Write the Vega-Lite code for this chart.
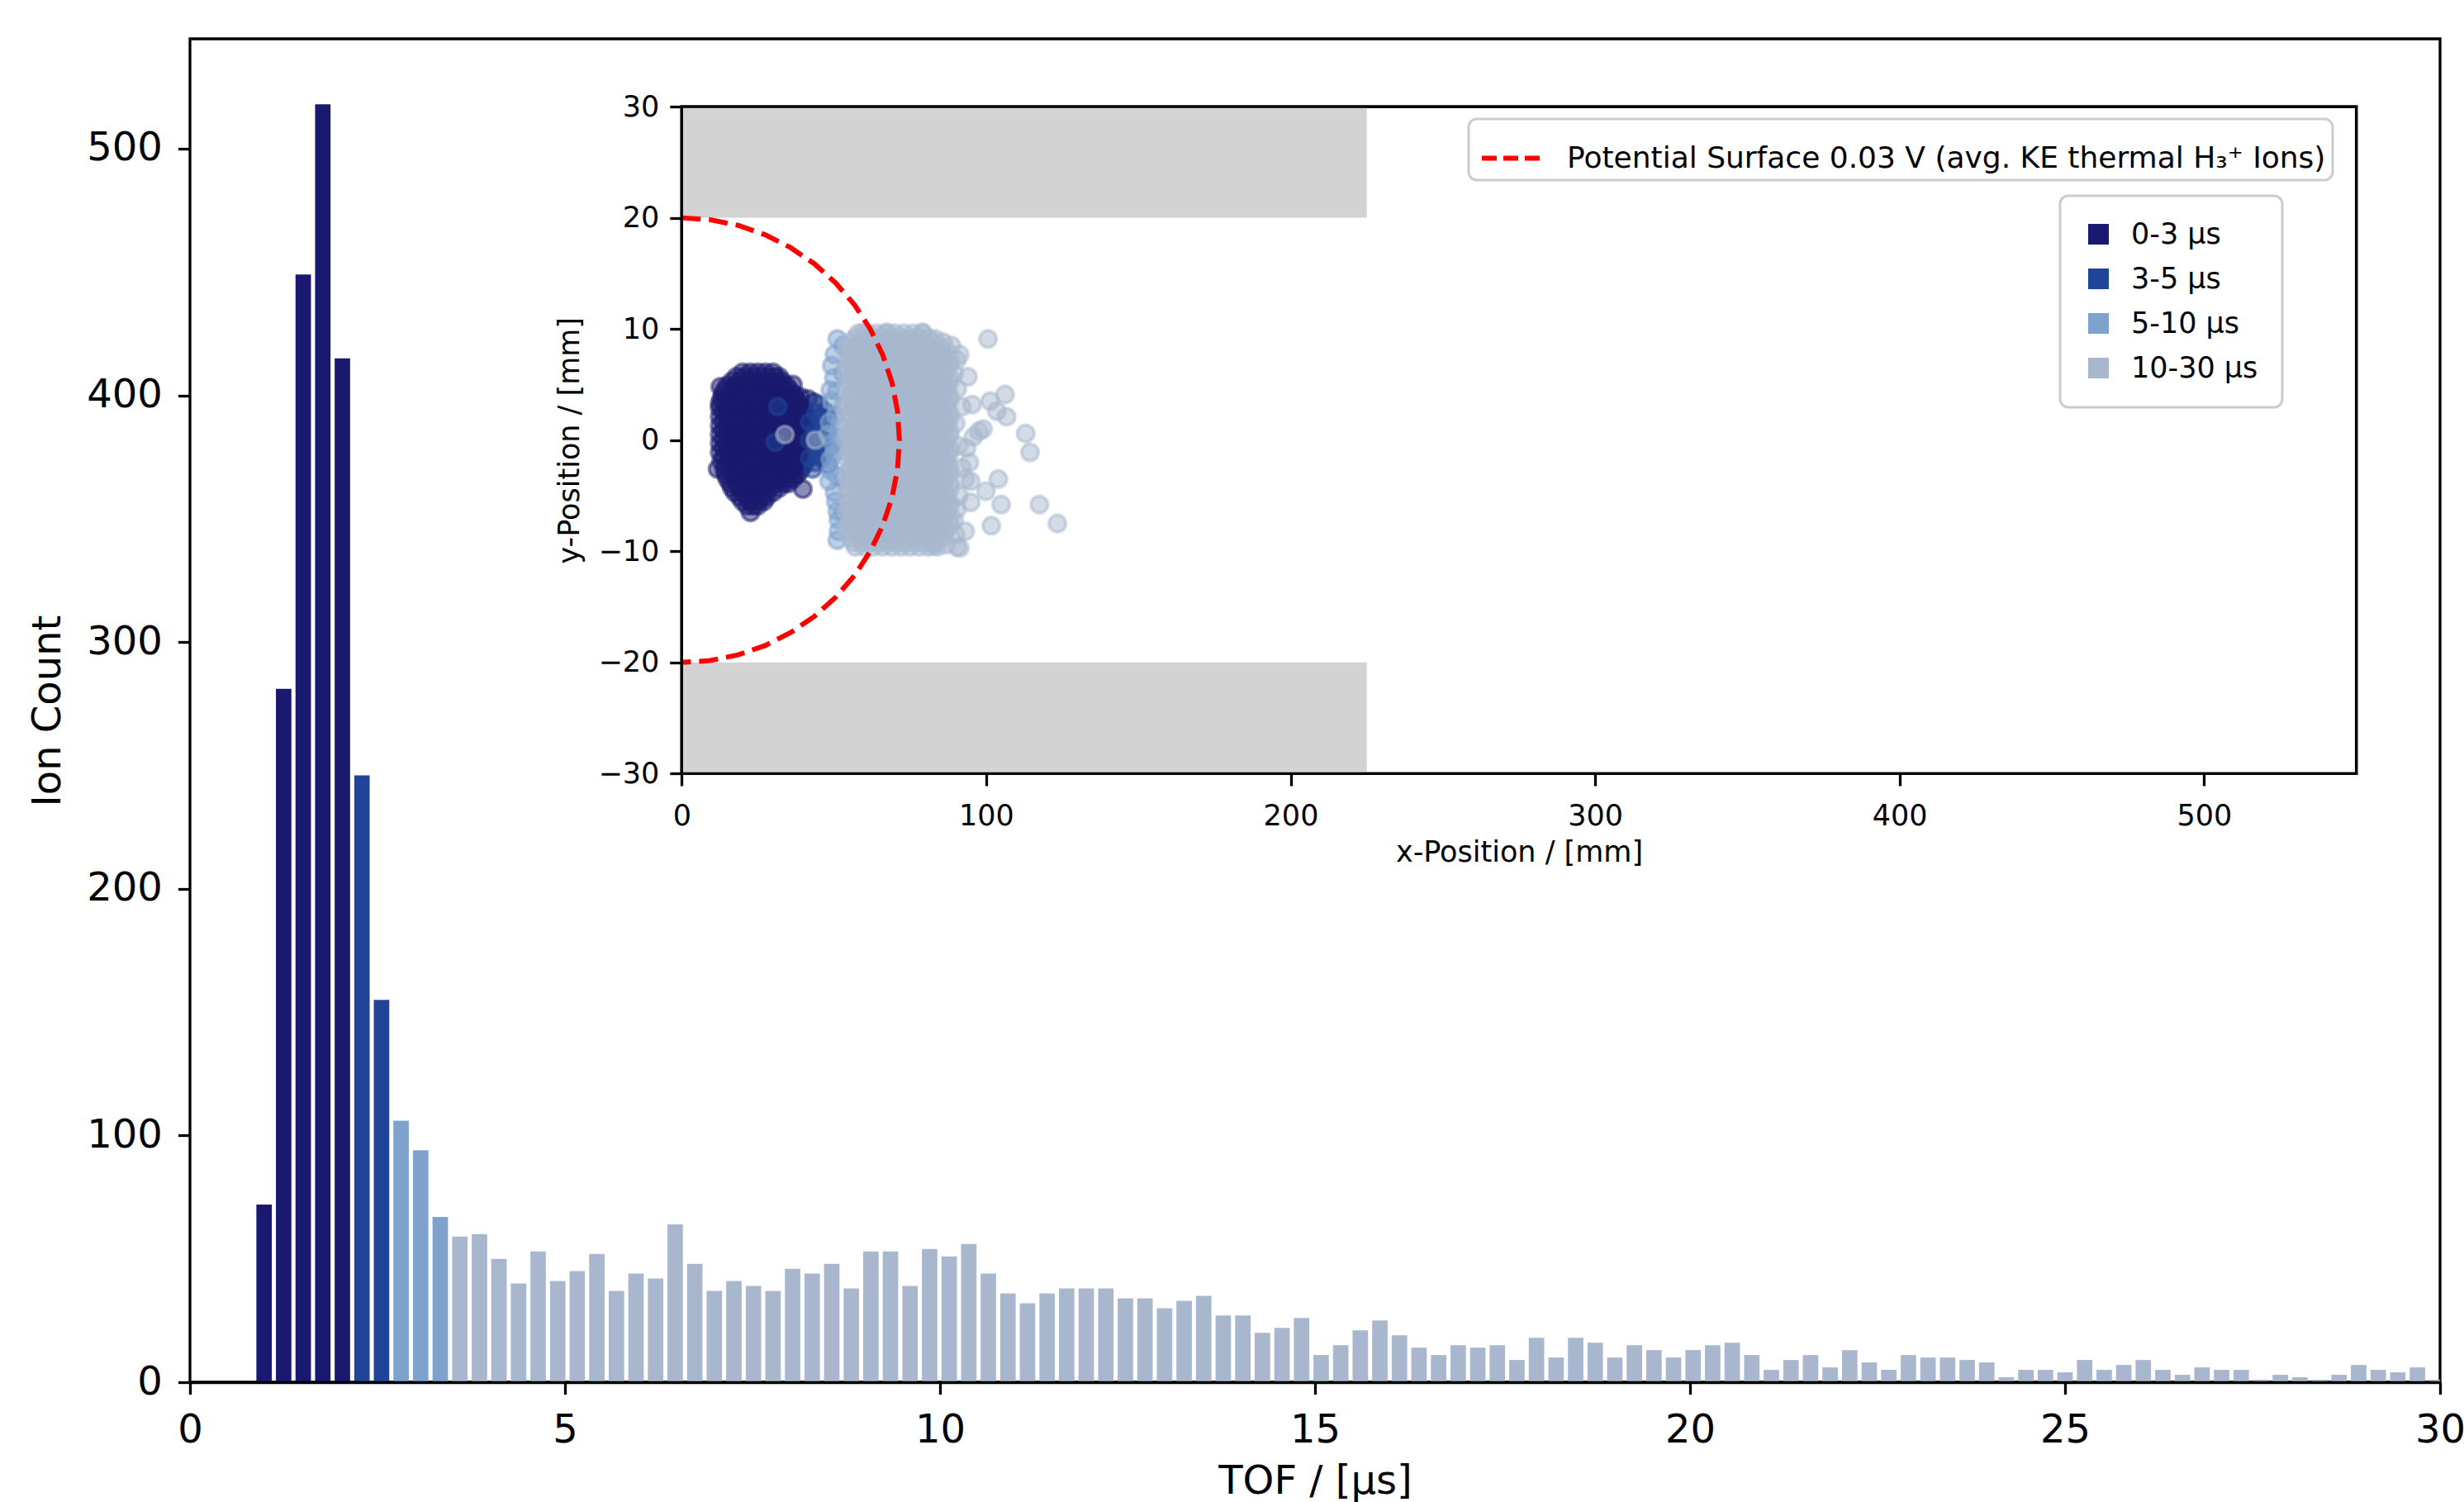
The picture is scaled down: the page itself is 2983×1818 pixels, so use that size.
{
  "$schema": "https://vega.github.io/schema/vega-lite/v6.json",
  "width": 2724,
  "height": 1626,
  "autosize": {"type": "none"},
  "padding": {"left": 230, "top": 47, "right": 29, "bottom": 145},
  "background": "white",
  "config": {
    "font": "DejaVu Sans",
    "view": {"stroke": "black", "strokeWidth": 3.3},
    "axis": {"grid": false, "labelFont": "DejaVu Sans", "titleFont": "DejaVu Sans", "labelColor": "black", "titleColor": "black", "tickColor": "black", "domainColor": "black", "titleFontWeight": "normal", "labelFlush": false, "labelOverlap": false, "tickWidth": 3.3, "tickSize": 14.6},
    "legend": {"labelFont": "DejaVu Sans", "labelColor": "black", "labelFontSize": 35, "strokeWidth": 3}
  },
  "datasets": {
    "hist": [
      {"t0":0.852,"t1":1.113,"n":72,"g":"0-3 μs"},
      {"t0":1.113,"t1":1.374,"n":281,"g":"0-3 μs"},
      {"t0":1.374,"t1":1.635,"n":449,"g":"0-3 μs"},
      {"t0":1.635,"t1":1.896,"n":518,"g":"0-3 μs"},
      {"t0":1.896,"t1":2.157,"n":415,"g":"0-3 μs"},
      {"t0":2.157,"t1":2.418,"n":246,"g":"3-5 μs"},
      {"t0":2.418,"t1":2.679,"n":155,"g":"3-5 μs"},
      {"t0":2.679,"t1":2.940,"n":106,"g":"5-10 μs"},
      {"t0":2.940,"t1":3.201,"n":94,"g":"5-10 μs"},
      {"t0":3.201,"t1":3.462,"n":67,"g":"5-10 μs"},
      {"t0":3.462,"t1":3.723,"n":59,"g":"10-30 μs"},
      {"t0":3.723,"t1":3.984,"n":60,"g":"10-30 μs"},
      {"t0":3.984,"t1":4.245,"n":50,"g":"10-30 μs"},
      {"t0":4.245,"t1":4.506,"n":40,"g":"10-30 μs"},
      {"t0":4.506,"t1":4.767,"n":53,"g":"10-30 μs"},
      {"t0":4.767,"t1":5.028,"n":41,"g":"10-30 μs"},
      {"t0":5.028,"t1":5.289,"n":45,"g":"10-30 μs"},
      {"t0":5.289,"t1":5.550,"n":52,"g":"10-30 μs"},
      {"t0":5.550,"t1":5.811,"n":37,"g":"10-30 μs"},
      {"t0":5.811,"t1":6.072,"n":44,"g":"10-30 μs"},
      {"t0":6.072,"t1":6.333,"n":42,"g":"10-30 μs"},
      {"t0":6.333,"t1":6.594,"n":64,"g":"10-30 μs"},
      {"t0":6.594,"t1":6.855,"n":48,"g":"10-30 μs"},
      {"t0":6.855,"t1":7.116,"n":37,"g":"10-30 μs"},
      {"t0":7.116,"t1":7.377,"n":41,"g":"10-30 μs"},
      {"t0":7.377,"t1":7.638,"n":39,"g":"10-30 μs"},
      {"t0":7.638,"t1":7.899,"n":37,"g":"10-30 μs"},
      {"t0":7.899,"t1":8.160,"n":46,"g":"10-30 μs"},
      {"t0":8.160,"t1":8.421,"n":44,"g":"10-30 μs"},
      {"t0":8.421,"t1":8.682,"n":48,"g":"10-30 μs"},
      {"t0":8.682,"t1":8.943,"n":38,"g":"10-30 μs"},
      {"t0":8.943,"t1":9.204,"n":53,"g":"10-30 μs"},
      {"t0":9.204,"t1":9.465,"n":53,"g":"10-30 μs"},
      {"t0":9.465,"t1":9.726,"n":39,"g":"10-30 μs"},
      {"t0":9.726,"t1":9.987,"n":54,"g":"10-30 μs"},
      {"t0":9.987,"t1":10.248,"n":51,"g":"10-30 μs"},
      {"t0":10.248,"t1":10.509,"n":56,"g":"10-30 μs"},
      {"t0":10.509,"t1":10.770,"n":44,"g":"10-30 μs"},
      {"t0":10.770,"t1":11.031,"n":36,"g":"10-30 μs"},
      {"t0":11.031,"t1":11.292,"n":32,"g":"10-30 μs"},
      {"t0":11.292,"t1":11.553,"n":36,"g":"10-30 μs"},
      {"t0":11.553,"t1":11.814,"n":38,"g":"10-30 μs"},
      {"t0":11.814,"t1":12.075,"n":38,"g":"10-30 μs"},
      {"t0":12.075,"t1":12.336,"n":38,"g":"10-30 μs"},
      {"t0":12.336,"t1":12.597,"n":34,"g":"10-30 μs"},
      {"t0":12.597,"t1":12.858,"n":34,"g":"10-30 μs"},
      {"t0":12.858,"t1":13.119,"n":30,"g":"10-30 μs"},
      {"t0":13.119,"t1":13.380,"n":33,"g":"10-30 μs"},
      {"t0":13.380,"t1":13.641,"n":35,"g":"10-30 μs"},
      {"t0":13.641,"t1":13.902,"n":27,"g":"10-30 μs"},
      {"t0":13.902,"t1":14.163,"n":27,"g":"10-30 μs"},
      {"t0":14.163,"t1":14.424,"n":20,"g":"10-30 μs"},
      {"t0":14.424,"t1":14.685,"n":22,"g":"10-30 μs"},
      {"t0":14.685,"t1":14.946,"n":26,"g":"10-30 μs"},
      {"t0":14.946,"t1":15.207,"n":11,"g":"10-30 μs"},
      {"t0":15.207,"t1":15.468,"n":15,"g":"10-30 μs"},
      {"t0":15.468,"t1":15.729,"n":21,"g":"10-30 μs"},
      {"t0":15.729,"t1":15.990,"n":25,"g":"10-30 μs"},
      {"t0":15.990,"t1":16.251,"n":19,"g":"10-30 μs"},
      {"t0":16.251,"t1":16.512,"n":14,"g":"10-30 μs"},
      {"t0":16.512,"t1":16.773,"n":11,"g":"10-30 μs"},
      {"t0":16.773,"t1":17.034,"n":15,"g":"10-30 μs"},
      {"t0":17.034,"t1":17.295,"n":14,"g":"10-30 μs"},
      {"t0":17.295,"t1":17.556,"n":15,"g":"10-30 μs"},
      {"t0":17.556,"t1":17.817,"n":9,"g":"10-30 μs"},
      {"t0":17.817,"t1":18.078,"n":18,"g":"10-30 μs"},
      {"t0":18.078,"t1":18.339,"n":10,"g":"10-30 μs"},
      {"t0":18.339,"t1":18.600,"n":18,"g":"10-30 μs"},
      {"t0":18.600,"t1":18.861,"n":16,"g":"10-30 μs"},
      {"t0":18.861,"t1":19.122,"n":10,"g":"10-30 μs"},
      {"t0":19.122,"t1":19.383,"n":15,"g":"10-30 μs"},
      {"t0":19.383,"t1":19.644,"n":13,"g":"10-30 μs"},
      {"t0":19.644,"t1":19.905,"n":10,"g":"10-30 μs"},
      {"t0":19.905,"t1":20.166,"n":13,"g":"10-30 μs"},
      {"t0":20.166,"t1":20.427,"n":15,"g":"10-30 μs"},
      {"t0":20.427,"t1":20.688,"n":16,"g":"10-30 μs"},
      {"t0":20.688,"t1":20.949,"n":11,"g":"10-30 μs"},
      {"t0":20.949,"t1":21.210,"n":5,"g":"10-30 μs"},
      {"t0":21.210,"t1":21.471,"n":9,"g":"10-30 μs"},
      {"t0":21.471,"t1":21.732,"n":11,"g":"10-30 μs"},
      {"t0":21.732,"t1":21.993,"n":6,"g":"10-30 μs"},
      {"t0":21.993,"t1":22.254,"n":13,"g":"10-30 μs"},
      {"t0":22.254,"t1":22.515,"n":8,"g":"10-30 μs"},
      {"t0":22.515,"t1":22.776,"n":5,"g":"10-30 μs"},
      {"t0":22.776,"t1":23.037,"n":11,"g":"10-30 μs"},
      {"t0":23.037,"t1":23.298,"n":10,"g":"10-30 μs"},
      {"t0":23.298,"t1":23.559,"n":10,"g":"10-30 μs"},
      {"t0":23.559,"t1":23.820,"n":9,"g":"10-30 μs"},
      {"t0":23.820,"t1":24.081,"n":8,"g":"10-30 μs"},
      {"t0":24.081,"t1":24.342,"n":2,"g":"10-30 μs"},
      {"t0":24.342,"t1":24.603,"n":5,"g":"10-30 μs"},
      {"t0":24.603,"t1":24.864,"n":5,"g":"10-30 μs"},
      {"t0":24.864,"t1":25.125,"n":4,"g":"10-30 μs"},
      {"t0":25.125,"t1":25.386,"n":9,"g":"10-30 μs"},
      {"t0":25.386,"t1":25.647,"n":5,"g":"10-30 μs"},
      {"t0":25.647,"t1":25.908,"n":7,"g":"10-30 μs"},
      {"t0":25.908,"t1":26.169,"n":9,"g":"10-30 μs"},
      {"t0":26.169,"t1":26.430,"n":5,"g":"10-30 μs"},
      {"t0":26.430,"t1":26.691,"n":3,"g":"10-30 μs"},
      {"t0":26.691,"t1":26.952,"n":6,"g":"10-30 μs"},
      {"t0":26.952,"t1":27.213,"n":5,"g":"10-30 μs"},
      {"t0":27.213,"t1":27.474,"n":5,"g":"10-30 μs"},
      {"t0":27.474,"t1":27.735,"n":1,"g":"10-30 μs"},
      {"t0":27.735,"t1":27.996,"n":3,"g":"10-30 μs"},
      {"t0":27.996,"t1":28.257,"n":2,"g":"10-30 μs"},
      {"t0":28.257,"t1":28.518,"n":1,"g":"10-30 μs"},
      {"t0":28.518,"t1":28.779,"n":3,"g":"10-30 μs"},
      {"t0":28.779,"t1":29.040,"n":7,"g":"10-30 μs"},
      {"t0":29.040,"t1":29.301,"n":5,"g":"10-30 μs"},
      {"t0":29.301,"t1":29.562,"n":4,"g":"10-30 μs"},
      {"t0":29.562,"t1":29.823,"n":6,"g":"10-30 μs"},
      {"t0":29.823,"t1":30.084,"n":1,"g":"10-30 μs"}
    ],
    "frame": [{"x":0,"x2":550,"y":-30,"y2":30}],
    "walls": [{"x":0,"x2":225,"y":20,"y2":30},{"x":0,"x2":225,"y":-30,"y2":-20}],
    "surf": [
      {"i":0,"x":0,"y":20},{"i":1,"x":9.33,"y":19.83},{"i":2,"x":18.5,"y":19.32},{"i":3,"x":27.36,"y":18.48},
      {"i":4,"x":35.75,"y":17.32},{"i":5,"x":43.53,"y":15.87},{"i":6,"x":50.56,"y":14.14},{"i":7,"x":56.73,"y":12.18},
      {"i":8,"x":61.92,"y":10},{"i":9,"x":66.06,"y":7.65},{"i":10,"x":69.06,"y":5.18},{"i":11,"x":70.89,"y":2.61},
      {"i":12,"x":71.5,"y":0},{"i":13,"x":70.89,"y":-2.61},{"i":14,"x":69.06,"y":-5.18},{"i":15,"x":66.06,"y":-7.65},
      {"i":16,"x":61.92,"y":-10},{"i":17,"x":56.73,"y":-12.18},{"i":18,"x":50.56,"y":-14.14},{"i":19,"x":43.53,"y":-15.87},
      {"i":20,"x":35.75,"y":-17.32},{"i":21,"x":27.36,"y":-18.48},{"i":22,"x":18.5,"y":-19.32},{"i":23,"x":9.33,"y":-19.83},
      {"i":24,"x":0,"y":-20}
    ],
    "p0": [
      {"x":20,"y":6.1},{"x":22.5,"y":6.1},{"x":25,"y":6.1},{"x":27.5,"y":6.1},{"x":30,"y":6.1},
      {"x":18,"y":5.7},{"x":20.5,"y":5.7},{"x":23,"y":5.7},{"x":25.5,"y":5.7},{"x":28,"y":5.7},{"x":30.5,"y":5.7},{"x":32,"y":5.7},
      {"x":16.5,"y":5.3},{"x":19,"y":5.3},{"x":21.5,"y":5.3},{"x":24,"y":5.3},{"x":26.5,"y":5.3},{"x":29,"y":5.3},{"x":31.5,"y":5.3},{"x":33,"y":5.3},
      {"x":15,"y":4.9},{"x":17.5,"y":4.9},{"x":20,"y":4.9},{"x":22.5,"y":4.9},{"x":25,"y":4.9},{"x":27.5,"y":4.9},{"x":30,"y":4.9},{"x":32.5,"y":4.9},{"x":34.5,"y":4.9},
      {"x":14,"y":4.5},{"x":16.5,"y":4.5},{"x":19,"y":4.5},{"x":21.5,"y":4.5},{"x":24,"y":4.5},{"x":26.5,"y":4.5},{"x":29,"y":4.5},{"x":31.5,"y":4.5},{"x":34,"y":4.5},{"x":35.5,"y":4.5},
      {"x":13.5,"y":4.1},{"x":16,"y":4.1},{"x":18.5,"y":4.1},{"x":21,"y":4.1},{"x":23.5,"y":4.1},{"x":26,"y":4.1},{"x":28.5,"y":4.1},{"x":31,"y":4.1},{"x":33.5,"y":4.1},{"x":36,"y":4.1},{"x":37,"y":4.1},
      {"x":13,"y":3.7},{"x":15.5,"y":3.7},{"x":18,"y":3.7},{"x":20.5,"y":3.7},{"x":23,"y":3.7},{"x":25.5,"y":3.7},{"x":28,"y":3.7},{"x":30.5,"y":3.7},{"x":33,"y":3.7},{"x":35.5,"y":3.7},{"x":37.5,"y":3.7},
      {"x":12.5,"y":3.3},{"x":14,"y":3.3},{"x":16.5,"y":3.3},{"x":19,"y":3.3},{"x":21.5,"y":3.3},{"x":24,"y":3.3},{"x":26.5,"y":3.3},{"x":29,"y":3.3},{"x":31.5,"y":3.3},{"x":34,"y":3.3},{"x":36.5,"y":3.3},{"x":38.5,"y":3.3},
      {"x":12.5,"y":2.9},{"x":15,"y":2.9},{"x":17.5,"y":2.9},{"x":20,"y":2.9},{"x":22.5,"y":2.9},{"x":25,"y":2.9},{"x":27.5,"y":2.9},{"x":30,"y":2.9},{"x":32.5,"y":2.9},{"x":35,"y":2.9},{"x":37.5,"y":2.9},{"x":39.5,"y":2.9},
      {"x":13.75,"y":2.5},{"x":16.25,"y":2.5},{"x":18.75,"y":2.5},{"x":21.25,"y":2.5},{"x":23.75,"y":2.5},{"x":26.25,"y":2.5},{"x":28.75,"y":2.5},{"x":31.25,"y":2.5},{"x":33.75,"y":2.5},{"x":36.25,"y":2.5},{"x":38.75,"y":2.5},{"x":40.5,"y":2.5},
      {"x":12.5,"y":2.1},{"x":15,"y":2.1},{"x":17.5,"y":2.1},{"x":20,"y":2.1},{"x":22.5,"y":2.1},{"x":25,"y":2.1},{"x":27.5,"y":2.1},{"x":30,"y":2.1},{"x":32.5,"y":2.1},{"x":35,"y":2.1},{"x":37.5,"y":2.1},{"x":40,"y":2.1},{"x":41.5,"y":2.1},
      {"x":13.75,"y":1.7},{"x":16.25,"y":1.7},{"x":18.75,"y":1.7},{"x":21.25,"y":1.7},{"x":23.75,"y":1.7},{"x":26.25,"y":1.7},{"x":28.75,"y":1.7},{"x":31.25,"y":1.7},{"x":33.75,"y":1.7},{"x":36.25,"y":1.7},{"x":38.75,"y":1.7},{"x":41.25,"y":1.7},{"x":42,"y":1.7},
      {"x":12.5,"y":1.3},{"x":15,"y":1.3},{"x":17.5,"y":1.3},{"x":20,"y":1.3},{"x":22.5,"y":1.3},{"x":25,"y":1.3},{"x":27.5,"y":1.3},{"x":30,"y":1.3},{"x":32.5,"y":1.3},{"x":35,"y":1.3},{"x":37.5,"y":1.3},{"x":40,"y":1.3},{"x":42,"y":1.3},
      {"x":13.75,"y":0.9},{"x":16.25,"y":0.9},{"x":18.75,"y":0.9},{"x":21.25,"y":0.9},{"x":23.75,"y":0.9},{"x":26.25,"y":0.9},{"x":28.75,"y":0.9},{"x":31.25,"y":0.9},{"x":33.75,"y":0.9},{"x":36.25,"y":0.9},{"x":38.75,"y":0.9},{"x":41.25,"y":0.9},{"x":42.5,"y":0.9},
      {"x":12.5,"y":0.5},{"x":15,"y":0.5},{"x":17.5,"y":0.5},{"x":20,"y":0.5},{"x":22.5,"y":0.5},{"x":25,"y":0.5},{"x":27.5,"y":0.5},{"x":30,"y":0.5},{"x":32.5,"y":0.5},{"x":35,"y":0.5},{"x":37.5,"y":0.5},{"x":40,"y":0.5},{"x":42.5,"y":0.5},
      {"x":13.75,"y":0.1},{"x":16.25,"y":0.1},{"x":18.75,"y":0.1},{"x":21.25,"y":0.1},{"x":23.75,"y":0.1},{"x":26.25,"y":0.1},{"x":28.75,"y":0.1},{"x":31.25,"y":0.1},{"x":33.75,"y":0.1},{"x":36.25,"y":0.1},{"x":38.75,"y":0.1},{"x":41.25,"y":0.1},{"x":42.5,"y":0.1},
      {"x":12.5,"y":-0.3},{"x":15,"y":-0.3},{"x":17.5,"y":-0.3},{"x":20,"y":-0.3},{"x":22.5,"y":-0.3},{"x":25,"y":-0.3},{"x":27.5,"y":-0.3},{"x":30,"y":-0.3},{"x":32.5,"y":-0.3},{"x":35,"y":-0.3},{"x":37.5,"y":-0.3},{"x":40,"y":-0.3},{"x":42.5,"y":-0.3},
      {"x":13.75,"y":-0.7},{"x":16.25,"y":-0.7},{"x":18.75,"y":-0.7},{"x":21.25,"y":-0.7},{"x":23.75,"y":-0.7},{"x":26.25,"y":-0.7},{"x":28.75,"y":-0.7},{"x":31.25,"y":-0.7},{"x":33.75,"y":-0.7},{"x":36.25,"y":-0.7},{"x":38.75,"y":-0.7},{"x":41.25,"y":-0.7},{"x":42.5,"y":-0.7},
      {"x":12.5,"y":-1.1},{"x":15,"y":-1.1},{"x":17.5,"y":-1.1},{"x":20,"y":-1.1},{"x":22.5,"y":-1.1},{"x":25,"y":-1.1},{"x":27.5,"y":-1.1},{"x":30,"y":-1.1},{"x":32.5,"y":-1.1},{"x":35,"y":-1.1},{"x":37.5,"y":-1.1},{"x":40,"y":-1.1},{"x":41.5,"y":-1.1},
      {"x":13.75,"y":-1.5},{"x":16.25,"y":-1.5},{"x":18.75,"y":-1.5},{"x":21.25,"y":-1.5},{"x":23.75,"y":-1.5},{"x":26.25,"y":-1.5},{"x":28.75,"y":-1.5},{"x":31.25,"y":-1.5},{"x":33.75,"y":-1.5},{"x":36.25,"y":-1.5},{"x":38.75,"y":-1.5},{"x":41,"y":-1.5},
      {"x":13,"y":-1.9},{"x":15.5,"y":-1.9},{"x":18,"y":-1.9},{"x":20.5,"y":-1.9},{"x":23,"y":-1.9},{"x":25.5,"y":-1.9},{"x":28,"y":-1.9},{"x":30.5,"y":-1.9},{"x":33,"y":-1.9},{"x":35.5,"y":-1.9},{"x":38,"y":-1.9},{"x":40.5,"y":-1.9},
      {"x":14.25,"y":-2.3},{"x":16.75,"y":-2.3},{"x":19.25,"y":-2.3},{"x":21.75,"y":-2.3},{"x":24.25,"y":-2.3},{"x":26.75,"y":-2.3},{"x":29.25,"y":-2.3},{"x":31.75,"y":-2.3},{"x":34.25,"y":-2.3},{"x":36.75,"y":-2.3},{"x":39.25,"y":-2.3},{"x":40,"y":-2.3},
      {"x":14,"y":-2.7},{"x":16.5,"y":-2.7},{"x":19,"y":-2.7},{"x":21.5,"y":-2.7},{"x":24,"y":-2.7},{"x":26.5,"y":-2.7},{"x":29,"y":-2.7},{"x":31.5,"y":-2.7},{"x":34,"y":-2.7},{"x":36.5,"y":-2.7},{"x":39,"y":-2.7},
      {"x":14.5,"y":-3.1},{"x":17,"y":-3.1},{"x":19.5,"y":-3.1},{"x":22,"y":-3.1},{"x":24.5,"y":-3.1},{"x":27,"y":-3.1},{"x":29.5,"y":-3.1},{"x":32,"y":-3.1},{"x":34.5,"y":-3.1},{"x":37,"y":-3.1},{"x":38,"y":-3.1},
      {"x":15,"y":-3.5},{"x":17.5,"y":-3.5},{"x":20,"y":-3.5},{"x":22.5,"y":-3.5},{"x":25,"y":-3.5},{"x":27.5,"y":-3.5},{"x":30,"y":-3.5},{"x":32.5,"y":-3.5},{"x":35,"y":-3.5},{"x":36.5,"y":-3.5},
      {"x":16,"y":-3.9},{"x":18.5,"y":-3.9},{"x":21,"y":-3.9},{"x":23.5,"y":-3.9},{"x":26,"y":-3.9},{"x":28.5,"y":-3.9},{"x":31,"y":-3.9},{"x":33.5,"y":-3.9},{"x":35,"y":-3.9},
      {"x":16.5,"y":-4.3},{"x":19,"y":-4.3},{"x":21.5,"y":-4.3},{"x":24,"y":-4.3},{"x":26.5,"y":-4.3},{"x":29,"y":-4.3},{"x":32,"y":-4.3},
      {"x":17.5,"y":-4.7},{"x":20,"y":-4.7},{"x":22.5,"y":-4.7},{"x":25,"y":-4.7},{"x":27.5,"y":-4.7},{"x":30,"y":-4.7},
      {"x":19,"y":-5.1},{"x":21.5,"y":-5.1},{"x":24,"y":-5.1},{"x":26.5,"y":-5.1},{"x":28,"y":-5.1},
      {"x":20,"y":-5.5},{"x":22.5,"y":-5.5},{"x":25,"y":-5.5},{"x":27,"y":-5.5},
      {"x":21.5,"y":-5.9},{"x":23.5,"y":-5.9},{"x":25,"y":-5.9},
      {"x":38.9,"y":3.9},{"x":41.5,"y":3.7},{"x":43.5,"y":3.4},{"x":39.8,"y":-4.4},{"x":22.6,"y":-6.5},{"x":12.7,"y":4.8},{"x":36.5,"y":5.0},{"x":11.8,"y":-2.6}
    ],
    "p1": [
      {"x":44,"y":2.4},{"x":46,"y":1.6},{"x":44,"y":0.8},{"x":46.5,"y":0},{"x":44,"y":-0.8},{"x":46,"y":-1.6},{"x":44,"y":-2.0},
      {"x":47,"y":2.6},{"x":47.5,"y":0.8},{"x":47.5,"y":-0.8},{"x":45,"y":3.2},{"x":43,"y":-2.6},{"x":31.6,"y":3.0},{"x":30.7,"y":-0.2},
      {"x":42,"y":0},{"x":42,"y":1.6},{"x":42,"y":-1.6},{"x":48,"y":-2.2},{"x":48,"y":2},{"x":45,"y":0.4},{"x":45,"y":-1.2},{"x":45.5,"y":2}
    ],
    "p2": [
      {"x":51.1,"y":9.1},{"x":50.2,"y":7.7},{"x":49.3,"y":6.7},{"x":50,"y":5.6},{"x":48.8,"y":4.5},{"x":49.3,"y":3.5},
      {"x":50.6,"y":2.2},{"x":52,"y":1.2},{"x":51.5,"y":0.3},{"x":50.6,"y":-1},{"x":48.8,"y":-1.7},{"x":48.8,"y":-2.7},
      {"x":48.4,"y":-3.7},{"x":50.2,"y":-4.7},{"x":50.6,"y":-5.5},{"x":51.1,"y":-6.4},{"x":51.5,"y":-7.2},{"x":51.5,"y":-8.2},
      {"x":51.1,"y":-9.0},{"x":53,"y":8.5},{"x":53,"y":6},{"x":53,"y":3},{"x":53,"y":-0.5},{"x":53,"y":-3.5},{"x":53,"y":-6.5},
      {"x":56,"y":7},{"x":56,"y":0},{"x":56,"y":-7},{"x":48,"y":0.5},{"x":49.5,"y":-0.3},{"x":48.5,"y":1.6},{"x":50,"y":-1.3},{"x":51,"y":4.4},{"x":51,"y":-3.2}
    ],
    "p3": [
      {"x":58,"y":9.6},{"x":61,"y":9.6},{"x":64,"y":9.6},{"x":67,"y":9.6},{"x":70,"y":9.6},{"x":73,"y":9.6},{"x":76,"y":9.6},{"x":79,"y":9.6},
      {"x":57,"y":9.2},{"x":60,"y":9.2},{"x":63,"y":9.2},{"x":66,"y":9.2},{"x":69,"y":9.2},{"x":72,"y":9.2},{"x":75,"y":9.2},{"x":78,"y":9.2},{"x":81,"y":9.2},
      {"x":55.5,"y":8.8},{"x":58.5,"y":8.8},{"x":61.5,"y":8.8},{"x":64.5,"y":8.8},{"x":67.5,"y":8.8},{"x":70.5,"y":8.8},{"x":73.5,"y":8.8},{"x":76.5,"y":8.8},{"x":79.5,"y":8.8},{"x":82.5,"y":8.8},
      {"x":55,"y":8.4},{"x":58,"y":8.4},{"x":61,"y":8.4},{"x":64,"y":8.4},{"x":67,"y":8.4},{"x":70,"y":8.4},{"x":73,"y":8.4},{"x":76,"y":8.4},{"x":79,"y":8.4},{"x":82,"y":8.4},{"x":85,"y":8.4},
      {"x":54,"y":8},{"x":57,"y":8},{"x":60,"y":8},{"x":63,"y":8},{"x":66,"y":8},{"x":69,"y":8},{"x":72,"y":8},{"x":75,"y":8},{"x":78,"y":8},{"x":81,"y":8},{"x":84,"y":8},{"x":87,"y":8},
      {"x":56.5,"y":7.6},{"x":59.5,"y":7.6},{"x":62.5,"y":7.6},{"x":65.5,"y":7.6},{"x":68.5,"y":7.6},{"x":71.5,"y":7.6},{"x":74.5,"y":7.6},{"x":77.5,"y":7.6},{"x":80.5,"y":7.6},{"x":83.5,"y":7.6},{"x":86.5,"y":7.6},
      {"x":55.5,"y":7.2},{"x":58.5,"y":7.2},{"x":61.5,"y":7.2},{"x":64.5,"y":7.2},{"x":67.5,"y":7.2},{"x":70.5,"y":7.2},{"x":73.5,"y":7.2},{"x":76.5,"y":7.2},{"x":79.5,"y":7.2},{"x":82.5,"y":7.2},{"x":85.5,"y":7.2},{"x":88,"y":7.2},
      {"x":55,"y":6.8},{"x":58,"y":6.8},{"x":61,"y":6.8},{"x":64,"y":6.8},{"x":67,"y":6.8},{"x":70,"y":6.8},{"x":73,"y":6.8},{"x":76,"y":6.8},{"x":79,"y":6.8},{"x":82,"y":6.8},{"x":85,"y":6.8},{"x":88,"y":6.8},
      {"x":54,"y":6.4},{"x":57,"y":6.4},{"x":60,"y":6.4},{"x":63,"y":6.4},{"x":66,"y":6.4},{"x":69,"y":6.4},{"x":72,"y":6.4},{"x":75,"y":6.4},{"x":78,"y":6.4},{"x":81,"y":6.4},{"x":84,"y":6.4},{"x":87,"y":6.4},
      {"x":56.5,"y":6},{"x":59.5,"y":6},{"x":62.5,"y":6},{"x":65.5,"y":6},{"x":68.5,"y":6},{"x":71.5,"y":6},{"x":74.5,"y":6},{"x":77.5,"y":6},{"x":80.5,"y":6},{"x":83.5,"y":6},{"x":86.5,"y":6},
      {"x":55.5,"y":5.6},{"x":58.5,"y":5.6},{"x":61.5,"y":5.6},{"x":64.5,"y":5.6},{"x":67.5,"y":5.6},{"x":70.5,"y":5.6},{"x":73.5,"y":5.6},{"x":76.5,"y":5.6},{"x":79.5,"y":5.6},{"x":82.5,"y":5.6},{"x":85.5,"y":5.6},{"x":88,"y":5.6},
      {"x":55,"y":5.2},{"x":58,"y":5.2},{"x":61,"y":5.2},{"x":64,"y":5.2},{"x":67,"y":5.2},{"x":70,"y":5.2},{"x":73,"y":5.2},{"x":76,"y":5.2},{"x":79,"y":5.2},{"x":82,"y":5.2},{"x":85,"y":5.2},{"x":88,"y":5.2},
      {"x":54,"y":4.8},{"x":57,"y":4.8},{"x":60,"y":4.8},{"x":63,"y":4.8},{"x":66,"y":4.8},{"x":69,"y":4.8},{"x":72,"y":4.8},{"x":75,"y":4.8},{"x":78,"y":4.8},{"x":81,"y":4.8},{"x":84,"y":4.8},{"x":87,"y":4.8},
      {"x":56.5,"y":4.4},{"x":59.5,"y":4.4},{"x":62.5,"y":4.4},{"x":65.5,"y":4.4},{"x":68.5,"y":4.4},{"x":71.5,"y":4.4},{"x":74.5,"y":4.4},{"x":77.5,"y":4.4},{"x":80.5,"y":4.4},{"x":83.5,"y":4.4},{"x":86.5,"y":4.4},
      {"x":55.5,"y":4},{"x":58.5,"y":4},{"x":61.5,"y":4},{"x":64.5,"y":4},{"x":67.5,"y":4},{"x":70.5,"y":4},{"x":73.5,"y":4},{"x":76.5,"y":4},{"x":79.5,"y":4},{"x":82.5,"y":4},{"x":85.5,"y":4},{"x":88,"y":4},
      {"x":55,"y":3.6},{"x":58,"y":3.6},{"x":61,"y":3.6},{"x":64,"y":3.6},{"x":67,"y":3.6},{"x":70,"y":3.6},{"x":73,"y":3.6},{"x":76,"y":3.6},{"x":79,"y":3.6},{"x":82,"y":3.6},{"x":85,"y":3.6},{"x":88,"y":3.6},
      {"x":54,"y":3.2},{"x":57,"y":3.2},{"x":60,"y":3.2},{"x":63,"y":3.2},{"x":66,"y":3.2},{"x":69,"y":3.2},{"x":72,"y":3.2},{"x":75,"y":3.2},{"x":78,"y":3.2},{"x":81,"y":3.2},{"x":84,"y":3.2},{"x":87,"y":3.2},
      {"x":56.5,"y":2.8},{"x":59.5,"y":2.8},{"x":62.5,"y":2.8},{"x":65.5,"y":2.8},{"x":68.5,"y":2.8},{"x":71.5,"y":2.8},{"x":74.5,"y":2.8},{"x":77.5,"y":2.8},{"x":80.5,"y":2.8},{"x":83.5,"y":2.8},{"x":86.5,"y":2.8},
      {"x":55.5,"y":2.4},{"x":58.5,"y":2.4},{"x":61.5,"y":2.4},{"x":64.5,"y":2.4},{"x":67.5,"y":2.4},{"x":70.5,"y":2.4},{"x":73.5,"y":2.4},{"x":76.5,"y":2.4},{"x":79.5,"y":2.4},{"x":82.5,"y":2.4},{"x":85.5,"y":2.4},{"x":88,"y":2.4},
      {"x":55,"y":2},{"x":58,"y":2},{"x":61,"y":2},{"x":64,"y":2},{"x":67,"y":2},{"x":70,"y":2},{"x":73,"y":2},{"x":76,"y":2},{"x":79,"y":2},{"x":82,"y":2},{"x":85,"y":2},{"x":88,"y":2},
      {"x":54,"y":1.6},{"x":57,"y":1.6},{"x":60,"y":1.6},{"x":63,"y":1.6},{"x":66,"y":1.6},{"x":69,"y":1.6},{"x":72,"y":1.6},{"x":75,"y":1.6},{"x":78,"y":1.6},{"x":81,"y":1.6},{"x":84,"y":1.6},{"x":87,"y":1.6},
      {"x":56.5,"y":1.2},{"x":59.5,"y":1.2},{"x":62.5,"y":1.2},{"x":65.5,"y":1.2},{"x":68.5,"y":1.2},{"x":71.5,"y":1.2},{"x":74.5,"y":1.2},{"x":77.5,"y":1.2},{"x":80.5,"y":1.2},{"x":83.5,"y":1.2},{"x":86.5,"y":1.2},
      {"x":55.5,"y":0.8},{"x":58.5,"y":0.8},{"x":61.5,"y":0.8},{"x":64.5,"y":0.8},{"x":67.5,"y":0.8},{"x":70.5,"y":0.8},{"x":73.5,"y":0.8},{"x":76.5,"y":0.8},{"x":79.5,"y":0.8},{"x":82.5,"y":0.8},{"x":85.5,"y":0.8},{"x":88,"y":0.8},
      {"x":55,"y":0.4},{"x":58,"y":0.4},{"x":61,"y":0.4},{"x":64,"y":0.4},{"x":67,"y":0.4},{"x":70,"y":0.4},{"x":73,"y":0.4},{"x":76,"y":0.4},{"x":79,"y":0.4},{"x":82,"y":0.4},{"x":85,"y":0.4},{"x":88,"y":0.4},
      {"x":54,"y":0},{"x":57,"y":0},{"x":60,"y":0},{"x":63,"y":0},{"x":66,"y":0},{"x":69,"y":0},{"x":72,"y":0},{"x":75,"y":0},{"x":78,"y":0},{"x":81,"y":0},{"x":84,"y":0},{"x":87,"y":0},
      {"x":56.5,"y":-0.4},{"x":59.5,"y":-0.4},{"x":62.5,"y":-0.4},{"x":65.5,"y":-0.4},{"x":68.5,"y":-0.4},{"x":71.5,"y":-0.4},{"x":74.5,"y":-0.4},{"x":77.5,"y":-0.4},{"x":80.5,"y":-0.4},{"x":83.5,"y":-0.4},{"x":86.5,"y":-0.4},
      {"x":55.5,"y":-0.8},{"x":58.5,"y":-0.8},{"x":61.5,"y":-0.8},{"x":64.5,"y":-0.8},{"x":67.5,"y":-0.8},{"x":70.5,"y":-0.8},{"x":73.5,"y":-0.8},{"x":76.5,"y":-0.8},{"x":79.5,"y":-0.8},{"x":82.5,"y":-0.8},{"x":85.5,"y":-0.8},{"x":88,"y":-0.8},
      {"x":55,"y":-1.2},{"x":58,"y":-1.2},{"x":61,"y":-1.2},{"x":64,"y":-1.2},{"x":67,"y":-1.2},{"x":70,"y":-1.2},{"x":73,"y":-1.2},{"x":76,"y":-1.2},{"x":79,"y":-1.2},{"x":82,"y":-1.2},{"x":85,"y":-1.2},{"x":88,"y":-1.2},
      {"x":54,"y":-1.6},{"x":57,"y":-1.6},{"x":60,"y":-1.6},{"x":63,"y":-1.6},{"x":66,"y":-1.6},{"x":69,"y":-1.6},{"x":72,"y":-1.6},{"x":75,"y":-1.6},{"x":78,"y":-1.6},{"x":81,"y":-1.6},{"x":84,"y":-1.6},{"x":87,"y":-1.6},
      {"x":56.5,"y":-2},{"x":59.5,"y":-2},{"x":62.5,"y":-2},{"x":65.5,"y":-2},{"x":68.5,"y":-2},{"x":71.5,"y":-2},{"x":74.5,"y":-2},{"x":77.5,"y":-2},{"x":80.5,"y":-2},{"x":83.5,"y":-2},{"x":86.5,"y":-2},
      {"x":55.5,"y":-2.4},{"x":58.5,"y":-2.4},{"x":61.5,"y":-2.4},{"x":64.5,"y":-2.4},{"x":67.5,"y":-2.4},{"x":70.5,"y":-2.4},{"x":73.5,"y":-2.4},{"x":76.5,"y":-2.4},{"x":79.5,"y":-2.4},{"x":82.5,"y":-2.4},{"x":85.5,"y":-2.4},{"x":88,"y":-2.4},
      {"x":55,"y":-2.8},{"x":58,"y":-2.8},{"x":61,"y":-2.8},{"x":64,"y":-2.8},{"x":67,"y":-2.8},{"x":70,"y":-2.8},{"x":73,"y":-2.8},{"x":76,"y":-2.8},{"x":79,"y":-2.8},{"x":82,"y":-2.8},{"x":85,"y":-2.8},{"x":88,"y":-2.8},
      {"x":54,"y":-3.2},{"x":57,"y":-3.2},{"x":60,"y":-3.2},{"x":63,"y":-3.2},{"x":66,"y":-3.2},{"x":69,"y":-3.2},{"x":72,"y":-3.2},{"x":75,"y":-3.2},{"x":78,"y":-3.2},{"x":81,"y":-3.2},{"x":84,"y":-3.2},{"x":87,"y":-3.2},
      {"x":56.5,"y":-3.6},{"x":59.5,"y":-3.6},{"x":62.5,"y":-3.6},{"x":65.5,"y":-3.6},{"x":68.5,"y":-3.6},{"x":71.5,"y":-3.6},{"x":74.5,"y":-3.6},{"x":77.5,"y":-3.6},{"x":80.5,"y":-3.6},{"x":83.5,"y":-3.6},{"x":86.5,"y":-3.6},
      {"x":55.5,"y":-4},{"x":58.5,"y":-4},{"x":61.5,"y":-4},{"x":64.5,"y":-4},{"x":67.5,"y":-4},{"x":70.5,"y":-4},{"x":73.5,"y":-4},{"x":76.5,"y":-4},{"x":79.5,"y":-4},{"x":82.5,"y":-4},{"x":85.5,"y":-4},{"x":88,"y":-4},
      {"x":55,"y":-4.4},{"x":58,"y":-4.4},{"x":61,"y":-4.4},{"x":64,"y":-4.4},{"x":67,"y":-4.4},{"x":70,"y":-4.4},{"x":73,"y":-4.4},{"x":76,"y":-4.4},{"x":79,"y":-4.4},{"x":82,"y":-4.4},{"x":85,"y":-4.4},{"x":88,"y":-4.4},
      {"x":54,"y":-4.8},{"x":57,"y":-4.8},{"x":60,"y":-4.8},{"x":63,"y":-4.8},{"x":66,"y":-4.8},{"x":69,"y":-4.8},{"x":72,"y":-4.8},{"x":75,"y":-4.8},{"x":78,"y":-4.8},{"x":81,"y":-4.8},{"x":84,"y":-4.8},{"x":87,"y":-4.8},
      {"x":56.5,"y":-5.2},{"x":59.5,"y":-5.2},{"x":62.5,"y":-5.2},{"x":65.5,"y":-5.2},{"x":68.5,"y":-5.2},{"x":71.5,"y":-5.2},{"x":74.5,"y":-5.2},{"x":77.5,"y":-5.2},{"x":80.5,"y":-5.2},{"x":83.5,"y":-5.2},{"x":86.5,"y":-5.2},
      {"x":55.5,"y":-5.6},{"x":58.5,"y":-5.6},{"x":61.5,"y":-5.6},{"x":64.5,"y":-5.6},{"x":67.5,"y":-5.6},{"x":70.5,"y":-5.6},{"x":73.5,"y":-5.6},{"x":76.5,"y":-5.6},{"x":79.5,"y":-5.6},{"x":82.5,"y":-5.6},{"x":85.5,"y":-5.6},{"x":88,"y":-5.6},
      {"x":55,"y":-6},{"x":58,"y":-6},{"x":61,"y":-6},{"x":64,"y":-6},{"x":67,"y":-6},{"x":70,"y":-6},{"x":73,"y":-6},{"x":76,"y":-6},{"x":79,"y":-6},{"x":82,"y":-6},{"x":85,"y":-6},{"x":88,"y":-6},
      {"x":54,"y":-6.4},{"x":57,"y":-6.4},{"x":60,"y":-6.4},{"x":63,"y":-6.4},{"x":66,"y":-6.4},{"x":69,"y":-6.4},{"x":72,"y":-6.4},{"x":75,"y":-6.4},{"x":78,"y":-6.4},{"x":81,"y":-6.4},{"x":84,"y":-6.4},{"x":87,"y":-6.4},
      {"x":56.5,"y":-6.8},{"x":59.5,"y":-6.8},{"x":62.5,"y":-6.8},{"x":65.5,"y":-6.8},{"x":68.5,"y":-6.8},{"x":71.5,"y":-6.8},{"x":74.5,"y":-6.8},{"x":77.5,"y":-6.8},{"x":80.5,"y":-6.8},{"x":83.5,"y":-6.8},{"x":86.5,"y":-6.8},
      {"x":55.5,"y":-7.2},{"x":58.5,"y":-7.2},{"x":61.5,"y":-7.2},{"x":64.5,"y":-7.2},{"x":67.5,"y":-7.2},{"x":70.5,"y":-7.2},{"x":73.5,"y":-7.2},{"x":76.5,"y":-7.2},{"x":79.5,"y":-7.2},{"x":82.5,"y":-7.2},{"x":85.5,"y":-7.2},{"x":88,"y":-7.2},
      {"x":55,"y":-7.6},{"x":58,"y":-7.6},{"x":61,"y":-7.6},{"x":64,"y":-7.6},{"x":67,"y":-7.6},{"x":70,"y":-7.6},{"x":73,"y":-7.6},{"x":76,"y":-7.6},{"x":79,"y":-7.6},{"x":82,"y":-7.6},{"x":85,"y":-7.6},{"x":88,"y":-7.6},
      {"x":54,"y":-8},{"x":57,"y":-8},{"x":60,"y":-8},{"x":63,"y":-8},{"x":66,"y":-8},{"x":69,"y":-8},{"x":72,"y":-8},{"x":75,"y":-8},{"x":78,"y":-8},{"x":81,"y":-8},{"x":84,"y":-8},{"x":87,"y":-8},
      {"x":56.5,"y":-8.4},{"x":59.5,"y":-8.4},{"x":62.5,"y":-8.4},{"x":65.5,"y":-8.4},{"x":68.5,"y":-8.4},{"x":71.5,"y":-8.4},{"x":74.5,"y":-8.4},{"x":77.5,"y":-8.4},{"x":80.5,"y":-8.4},{"x":83.5,"y":-8.4},{"x":86.5,"y":-8.4},
      {"x":55.5,"y":-8.8},{"x":58.5,"y":-8.8},{"x":61.5,"y":-8.8},{"x":64.5,"y":-8.8},{"x":67.5,"y":-8.8},{"x":70.5,"y":-8.8},{"x":73.5,"y":-8.8},{"x":76.5,"y":-8.8},{"x":79.5,"y":-8.8},{"x":82.5,"y":-8.8},{"x":85.5,"y":-8.8},
      {"x":56.5,"y":-9.2},{"x":59.5,"y":-9.2},{"x":62.5,"y":-9.2},{"x":65.5,"y":-9.2},{"x":68.5,"y":-9.2},{"x":71.5,"y":-9.2},{"x":74.5,"y":-9.2},{"x":77.5,"y":-9.2},{"x":80.5,"y":-9.2},{"x":83.5,"y":-9.2},
      {"x":57,"y":-9.6},{"x":60,"y":-9.6},{"x":63,"y":-9.6},{"x":66,"y":-9.6},{"x":69,"y":-9.6},{"x":72,"y":-9.6},{"x":75,"y":-9.6},{"x":78,"y":-9.6},{"x":81,"y":-9.6},{"x":84,"y":-9.6},
      {"x":91.3,"y":7.7},{"x":90.4,"y":7.2},{"x":94,"y":5.7},{"x":88.6,"y":8.5},{"x":85.9,"y":8.8},{"x":83.2,"y":9.1},{"x":79.1,"y":9.7},{"x":67.4,"y":9.7},{"x":59.7,"y":9.7},
      {"x":95.8,"y":0.3},{"x":93.6,"y":-0.7},{"x":94.5,"y":-2},{"x":93.1,"y":-3.5},{"x":94.9,"y":-3.7},{"x":90.4,"y":-6.2},{"x":89.5,"y":-7.2},{"x":90.4,"y":-9.6},{"x":91.3,"y":-9.7},
      {"x":86.8,"y":-9.4},{"x":82.7,"y":-9.5},{"x":92,"y":3},{"x":91,"y":-5},{"x":90,"y":1.5},{"x":92,"y":-2.5},{"x":90.5,"y":4.6},{"x":89.5,"y":6},{"x":91,"y":-0.5},{"x":90,"y":-8.5},
      {"x":100.6,"y":9.1},{"x":106.2,"y":4.1},{"x":101.3,"y":3.5},{"x":95.4,"y":3.2},{"x":103.5,"y":2.6},{"x":106.7,"y":2.1},{"x":99,"y":1},{"x":97.6,"y":0.8},
      {"x":113,"y":0.6},{"x":114.4,"y":-1.1},{"x":104,"y":-3.5},{"x":99.9,"y":-4.6},{"x":94.9,"y":-5.6},{"x":104.9,"y":-5.8},{"x":117.5,"y":-5.8},{"x":93.1,"y":-8.2},
      {"x":101.7,"y":-7.7},{"x":123.4,"y":-7.5},{"x":33.9,"y":0.5},{"x":43.9,"y":0}
    ]
  },
  "layer": [
    {
      "data": {"name": "hist"},
      "mark": {"type": "bar", "binSpacing": 5, "clip": true},
      "encoding": {
        "x": {"field": "t0", "type": "quantitative", "bin": {"binned": true},
              "scale": {"domain": [0, 30], "nice": false, "zero": false},
              "axis": {"title": "TOF / [μs]", "values": [0, 5, 10, 15, 20, 25, 30], "format": "d", "labelFontSize": 48, "titleFontSize": 48, "labelPadding": 20, "titlePadding": 14, "domain": true, "domainWidth": 3.3, "zindex": 1}},
        "x2": {"field": "t1"},
        "y": {"field": "n", "type": "quantitative",
              "scale": {"domain": [0, 544.5], "nice": false},
              "axis": {"title": "Ion Count", "values": [0, 100, 200, 300, 400, 500], "labelFontSize": 48, "titleFontSize": 48, "labelPadding": 19, "titlePadding": 22, "domain": false}},
        "color": {"field": "g", "type": "nominal",
                  "scale": {"domain": ["0-3 μs", "3-5 μs", "5-10 μs", "10-30 μs"], "range": ["#191970", "#1f4498", "#7ea2cd", "#a8b7cd"]},
                  "legend": {"orient": "none", "legendX": 2264, "legendY": 190, "direction": "vertical", "title": null, "symbolType": "square", "symbolSize": 625, "symbolOpacity": 1, "symbolStrokeWidth": 0, "labelFontSize": 35, "labelOffset": 22, "padding": 29, "rowPadding": 18, "strokeColor": "#cccccc", "fillColor": "white", "cornerRadius": 10}}
      }
    },
    {
      "encoding": {
        "x": {"field": "x", "type": "quantitative",
              "scale": {"domain": [-161.5, 577.5], "nice": false, "zero": false},
              "axis": {"orient": "bottom", "offset": -736.6, "values": [0, 100, 200, 300, 400, 500], "domain": false, "title": "x-Position / [mm]", "titleX": 1609, "labelFontSize": 35, "titleFontSize": 35, "labelPadding": 19, "titlePadding": 9}},
        "y": {"field": "y", "type": "quantitative",
              "scale": {"domain": [-84.75, 36.1], "nice": false, "zero": false},
              "axis": {"orient": "left", "offset": -595.4, "values": [-30, -20, -10, 0, 10, 20, 30], "domain": false, "title": "y-Position / [mm]", "titleY": 485.75, "labelFontSize": 35, "titleFontSize": 35, "labelPadding": 13, "titlePadding": 16}}
      },
      "layer": [
        {"data": {"name": "frame"}, "mark": {"type": "rect", "fill": "white", "stroke": "black", "strokeWidth": 3.3}, "encoding": {"x2": {"field": "x2"}, "y2": {"field": "y2"}}},
        {"data": {"name": "walls"}, "mark": {"type": "rect", "fill": "#d3d3d3"}, "encoding": {"x2": {"field": "x2"}, "y2": {"field": "y2"}}},
        {"data": {"name": "p0"}, "mark": {"type": "point", "shape": "circle", "filled": true, "size": 420, "opacity": 1, "fillOpacity": 0.5, "strokeOpacity": 0.5, "stroke": "#191970", "strokeWidth": 4}, "encoding": {"color": {"datum": "0-3 μs"}}},
        {"data": {"name": "p1"}, "mark": {"type": "point", "shape": "circle", "filled": true, "size": 420, "opacity": 1, "fillOpacity": 0.5, "strokeOpacity": 0.5, "stroke": "#1f4498", "strokeWidth": 4}, "encoding": {"color": {"datum": "3-5 μs"}}},
        {"data": {"name": "p2"}, "mark": {"type": "point", "shape": "circle", "filled": true, "size": 420, "opacity": 1, "fillOpacity": 0.5, "strokeOpacity": 0.5, "stroke": "#7ea2cd", "strokeWidth": 4}, "encoding": {"color": {"datum": "5-10 μs"}}},
        {"data": {"name": "p3"}, "mark": {"type": "point", "shape": "circle", "filled": true, "size": 420, "opacity": 1, "fillOpacity": 0.5, "strokeOpacity": 0.5, "stroke": "#a8b7cd", "strokeWidth": 4}, "encoding": {"color": {"datum": "10-30 μs"}}},
        {"data": {"name": "surf"}, "mark": {"type": "line", "strokeWidth": 6, "strokeDash": [23, 10]},
         "encoding": {"order": {"field": "i", "type": "quantitative"},
                      "stroke": {"datum": "Potential Surface 0.03 V (avg. KE thermal H₃⁺ Ions)", "type": "nominal", "scale": {"range": ["#ff0000"]},
                                 "legend": {"orient": "none", "legendX": 1548, "legendY": 97, "direction": "vertical", "title": null, "symbolType": "stroke", "symbolSize": 5329, "symbolStrokeWidth": 6, "symbolDash": [18, 8], "symbolOffset": 5, "labelFontSize": 36, "labelLimit": 3000, "labelOffset": 27, "padding": 8, "strokeColor": "#cccccc", "fillColor": "white", "cornerRadius": 10}}}},
        {"data": {"name": "frame"}, "mark": {"type": "rect", "fill": "transparent", "stroke": "black", "strokeWidth": 3.3}, "encoding": {"x2": {"field": "x2"}, "y2": {"field": "y2"}}}
      ]
    }
  ],
  "resolve": {"scale": {"x": "independent", "y": "independent"}}
}
